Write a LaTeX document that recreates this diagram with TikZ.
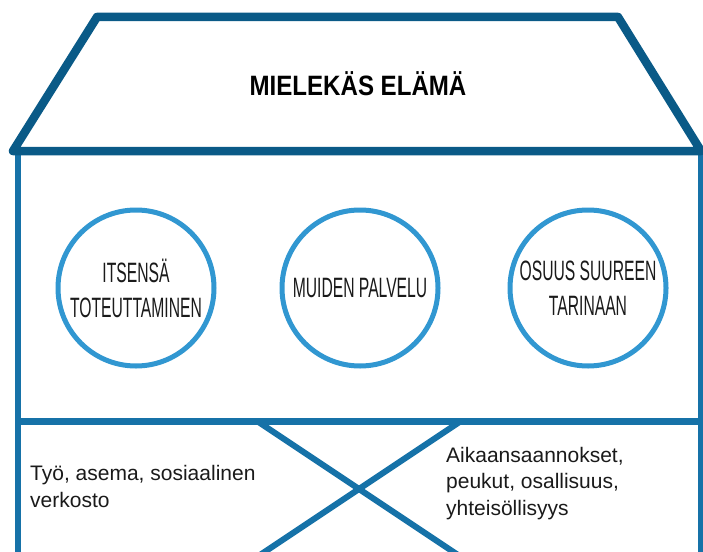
\documentclass[tikz,border=0pt]{standalone}
\usepackage{fontspec}
\setmainfont{Liberation Sans}
\newfontfamily\titlefont[FakeStretch=0.86]{Liberation Sans}
\newfontfamily\circfont[FakeStretch=0.56]{Liberation Sans}
\definecolor{roofblue}{HTML}{0A5A87}
\definecolor{wallblue}{HTML}{1672A8}
\definecolor{ringblue}{HTML}{3197D1}
\definecolor{txt}{HTML}{1A1A1A}
\tikzset{
  roof/.style={draw=roofblue, line width=8.5pt, line join=round, line cap=round},
  wall/.style={draw=wallblue, line width=6pt},
  ring/.style={circle, draw=ringblue, line width=5pt, minimum size=156pt, inner sep=0pt, fill=white},
  ringtext/.style={font=\circfont\fontsize{28}{35}\selectfont, text=txt, align=center},
  bodytext/.style={font=\fontsize{21}{26.5}\selectfont, text=txt, align=left, inner sep=0pt, anchor=base west},
}
\begin{document}
\begin{tikzpicture}[x=1pt,y=-1pt]
\useasboundingbox (0,0) rectangle (703,551);
% walls
\coordinate (wl) at (18,151);
\coordinate (wlb) at (18,560);
\coordinate (wr) at (700,151);
\coordinate (wrb) at (700,560);
\draw[wall] (wl) -- (wlb);
\draw[wall, line width=5pt] (wr) -- (wrb);
% divider
\coordinate (dl) at (18,421);
\coordinate (dr) at (700,421);
\draw[wall, line width=7pt] (dl) -- (dr);
% cross
\coordinate (c1) at (257,421);
\coordinate (c2) at (461,557);
\coordinate (c3) at (461,421);
\coordinate (c4) at (257,557);
\draw[wall] (c1) -- (c2);
\draw[wall] (c3) -- (c4);
% roof
\coordinate (r1) at (13,151);
\coordinate (r2) at (97,17);
\coordinate (r3) at (618,17);
\coordinate (r4) at (701,151);
\draw[roof] (r1) -- (r2) -- (r3) -- (r4) -- cycle;
\node[font=\titlefont\bfseries\fontsize{28}{32}\selectfont, text=black] (title) at (358,84) {MIELEKÄS ELÄMÄ};
% circles
\node[ring] (k1) at (136,288) {};
\node[ring] (k2) at (360,288) {};
\node[ring] (k3) at (588,288) {};
\node[ringtext] (t1) at (k1) {ITSENSÄ\\TOTEUTTAMINEN};
\node[ringtext] (t2) at (k2) {MUIDEN PALVELU};
\node[ringtext] (t3) at (k3) {OSUUS SUUREEN\\TARINAAN};
% bottom texts
\node[bodytext] (left) at (30,507) {Työ, asema, sosiaalinen\\verkosto};
\node[bodytext] (right) at (446,515) {Aikaansaannokset,\\peukut, osallisuus,\\yhteisöllisyys};
\end{tikzpicture}
\end{document}
